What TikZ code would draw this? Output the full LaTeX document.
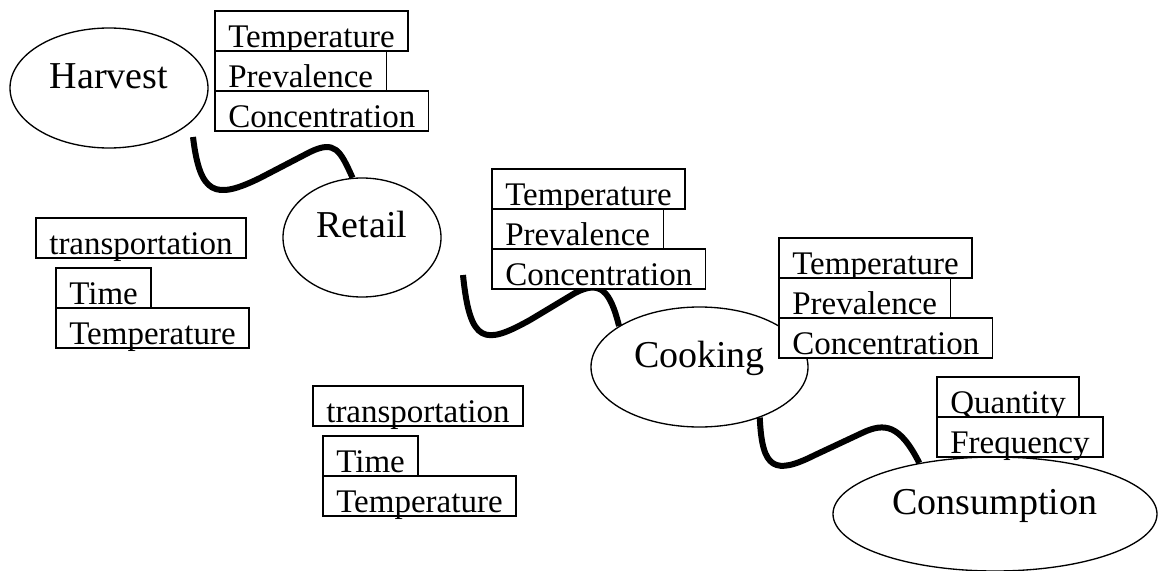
\documentclass[tikz,border=0pt]{standalone}
\usepackage{fontspec}
\setmainfont{Liberation Serif}
\usetikzlibrary{shapes.geometric}

\begin{document}
\begin{tikzpicture}[x=0.75pt, y=-0.75pt, font=\fontsize{24.75}{28}\selectfont,
  stage/.style={draw, ellipse, line width=1pt, inner sep=0pt, text height=12pt, text depth=12pt, font=\fontsize{28.5}{32}\selectfont},
  attr/.style={draw, fill=white, line width=1pt, anchor=north west, outer sep=0pt, inner xsep=10pt, inner ysep=0pt, text height=27.5pt, text depth=2.5pt},
  link/.style={line width=4.5pt}]

\useasboundingbox (0,0) rectangle (1158,571);

% stages
\node[stage, minimum width=148.5pt, minimum height=90pt] (harvest) at (109,88) {Harvest};
\node[stage, minimum width=118.5pt, minimum height=89.25pt] (retail) at (362,237.5) {Retail};
\node[stage, minimum width=162.75pt, minimum height=90pt] (cooking) at (699.5,367) {Cooking};
\node[stage, minimum width=243pt, minimum height=85.5pt] (consumption) at (995,514) {Consumption};

% free ends of the links
\coordinate (l1) at (193,137);
\coordinate (l2) at (463,275);

\draw[link] (l1) .. controls (200,195) and (215,200) .. (260,178) -- (310,152) .. controls (335,140) and (340,150) .. (retail.99);
\draw[link] (l2) .. controls (470,345) and (485,345) .. (530,320) -- (575,293) .. controls (600,280) and (610,290) .. (cooking.153);
\draw[link] (cooking.-40) .. controls (762,470) and (775,475) .. (815,455) -- (862,433) .. controls (885,422) and (900,425) .. (consumption.146);

% harvest
\node[attr] (h1) at (215,11) {Temperature};
\node[attr] (h2) at (h1.south west) {Prevalence};
\node[attr] (h3) at (h2.south west) {Concentration};

% transportation to retail
\node[attr] (ta1) at (36,218) {transportation};
\node[attr] (ta2) at (56,268) {Time};
\node[attr] (ta3) at (ta2.south west) {Temperature};

% retail
\node[attr] (r1) at (492,169) {Temperature};
\node[attr] (r2) at (r1.south west) {Prevalence};
\node[attr] (r3) at (r2.south west) {Concentration};

% cooking
\node[attr] (c1) at (779,238) {Temperature};
\node[attr] (c2) at (c1.south west) {Prevalence};
\node[attr] (c3) at (c2.south west) {Concentration};

% transportation to home
\node[attr] (tb1) at (313,386) {transportation};
\node[attr] (tb2) at (323,436) {Time};
\node[attr] (tb3) at (tb2.south west) {Temperature};

% consumption
\node[attr] (q1) at (937,377) {Quantity};
\node[attr] (q2) at (q1.south west) {Frequency};

\end{tikzpicture}
\end{document}
